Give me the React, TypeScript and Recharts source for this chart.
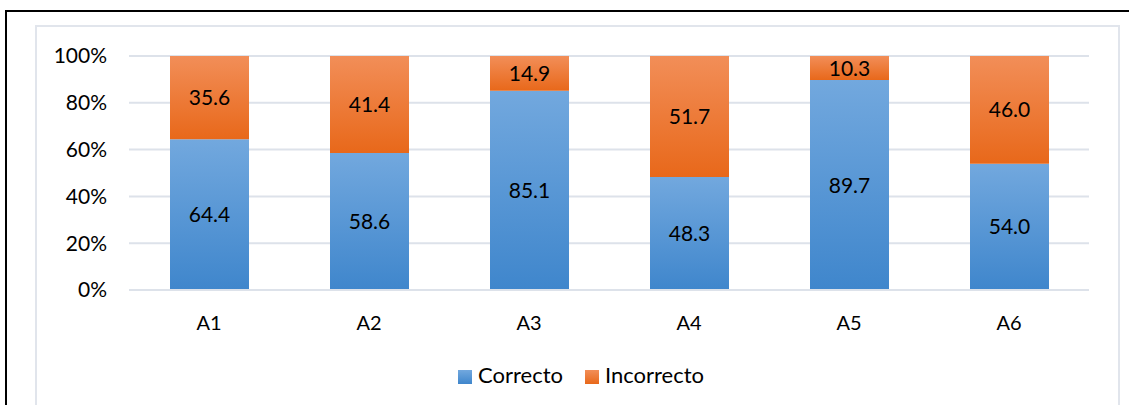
import { BarChart, Bar, XAxis, YAxis, CartesianGrid, Legend, LabelList } from 'recharts'

const categories = ['A1', 'A2', 'A3', 'A4', 'A5', 'A6']
const correcto = [64.4, 58.6, 85.1, 48.3, 89.7, 54.0]
const incorrecto = [35.6, 41.4, 14.9, 51.7, 10.3, 46.0]
const yTicks = [0, 20, 40, 60, 80, 100]

const data = categories.map((name, i) => ({ name, correcto: correcto[i], incorrecto: incorrecto[i] }))

const font = 'Lato, "Open Sans", sans-serif'

const App = () => {
  return (
    <div style={{ position: 'fixed', left: 0, top: 0, width: 1129, height: 405, background: '#fff', overflow: 'hidden', fontFamily: font }}>
      {/* outer black frame */}
      <div style={{ position: 'absolute', left: 5, top: 10, width: 1200, height: 500, borderLeft: '2px solid #000', borderTop: '2px solid #000' }} />
      {/* chart area border */}
      <div style={{ position: 'absolute', left: 35, top: 25, width: 1081, height: 500, border: '2px solid #e1e5ec' }} />
      <div style={{ position: 'absolute', left: 0, top: 0 }}>
        <BarChart
          width={1129}
          height={405}
          data={data}
          margin={{ top: 56, right: 40, left: 69, bottom: 58 }}
          barSize={79}
        >
          <defs>
            <linearGradient id="gBlue" x1="0" y1="0" x2="0" y2="1">
              <stop offset="0%" stopColor="#72a8de" />
              <stop offset="100%" stopColor="#3f86cc" />
            </linearGradient>
            <linearGradient id="gOrange" x1="0" y1="0" x2="0" y2="1">
              <stop offset="0%" stopColor="#f28e58" />
              <stop offset="100%" stopColor="#e8681a" />
            </linearGradient>
          </defs>
          <CartesianGrid vertical={false} stroke="#dde2ea" strokeWidth={2} />
          <XAxis
            dataKey="name"
            axisLine={{ stroke: '#dde2ea', strokeWidth: 2 }}
            tickLine={false}
            height={30}
            tickMargin={20}
            tick={{ fill: '#000', fontSize: 20, fontFamily: font }}
          />
          <YAxis
            width={60}
            domain={[0, 100]}
            ticks={yTicks}
            axisLine={false}
            tickLine={false}
            tickMargin={16}
            tickFormatter={(v) => `${v}%`}
            tick={{ fill: '#000', fontSize: 21, fontFamily: font }}
          />
          <Legend
            verticalAlign="bottom"
            iconType="square"
            iconSize={14}
            wrapperStyle={{ left: 51, width: 1082, top: 361, fontSize: 22, fontFamily: font, color: '#000' }}
            formatter={(value) => <span style={{ color: '#000', marginLeft: 2, marginRight: 12 }}>{value}</span>}
          />
          <Bar dataKey="correcto" name="Correcto" stackId="a" fill="url(#gBlue)" isAnimationActive={false}>
            <LabelList dataKey="correcto" position="center" formatter={(v: number) => v.toFixed(1)} fill="#000" fontSize={21} fontFamily={font} />
          </Bar>
          <Bar dataKey="incorrecto" name="Incorrecto" stackId="a" fill="url(#gOrange)" isAnimationActive={false}>
            <LabelList dataKey="incorrecto" position="center" formatter={(v: number) => v.toFixed(1)} fill="#000" fontSize={21} fontFamily={font} />
          </Bar>
        </BarChart>
      </div>
    </div>
  )
}

export default App
